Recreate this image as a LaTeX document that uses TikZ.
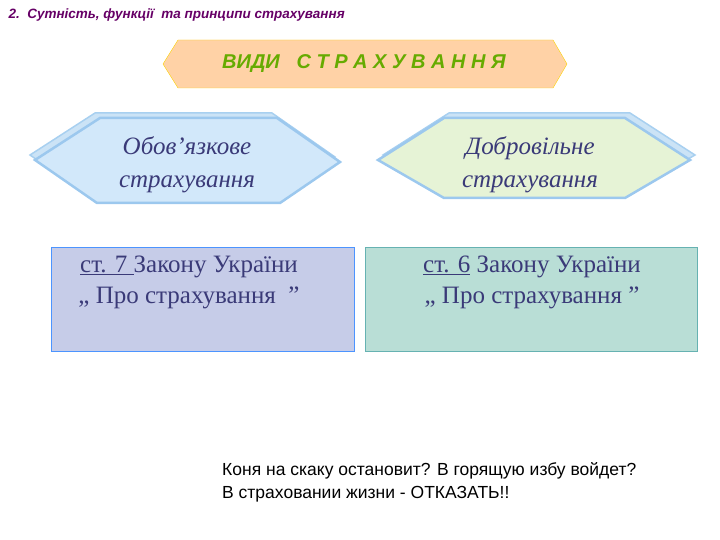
\documentclass[tikz,border=0pt]{standalone}
\usepackage{fontspec}
\setmainfont{Liberation Serif}
\newfontfamily\arialf{Liberation Sans}
\definecolor{hexl}{HTML}{D2E8FA}
\definecolor{hexr}{HTML}{E6F3D6}
\definecolor{hexb}{HTML}{A8D0F0}
\definecolor{hexe}{HTML}{9CC8EE}
\definecolor{boxl}{HTML}{C6CCE8}
\definecolor{boxr}{HTML}{B9DED6}
\definecolor{txtc}{HTML}{3A3A78}
\begin{document}
\begin{tikzpicture}[x=1pt,y=-1pt,
  hexback/.style={fill=hexb!60,draw=hexb,line width=1.5pt},
  hexfront/.style={draw=hexe,line width=2.5pt},
  lbl/.style={font=\itshape\fontsize{25}{33}\selectfont,text=txtc,align=center},
  boxtxt/.style={font=\fontsize{25}{31}\selectfont,text=txtc,align=center}]
\useasboundingbox (0,0) rectangle (720,540);
\node[anchor=west,font=\arialf\bfseries\itshape\fontsize{13.5}{16}\selectfont,text=violet!80!black] (title) at (5,15) {2.\ \ Сутність, функції\ \ та принципи страхування};
% top
\draw[fill=orange!35!white,draw=yellow!70!orange] (163,64) -- (178,40) -- (553,40) -- (567,64) -- (553,88) -- (178,88) -- cycle;
\node[font=\arialf\bfseries\itshape\fontsize{20}{24}\selectfont,text=green!45!black!60!yellow] (types) at (364,64) {ВИДИ\ \ \ С Т Р А Х У В А Н Н Я};
% left hex
\draw[hexback] (30,155) -- (95,113) -- (272,113) -- (335,157) -- (275,198) -- (92,198) -- cycle;
\draw[hexfront,fill=hexl] (35,160) -- (100,118) -- (277,118) -- (340,162) -- (280,203) -- (97,203) -- cycle;
\node[lbl] (mand) at (187,165) {Обов’язкове\\страхування};
% right hex
\draw[hexback] (383,155) -- (449,113) -- (630,113) -- (695,155) -- (630,193) -- (449,193) -- cycle;
\draw[hexfront,fill=hexr] (378,160) -- (444,118) -- (625,118) -- (690,160) -- (625,198) -- (444,198) -- cycle;
\node[lbl] (vol) at (530,165) {Добровільне\\страхування};
% boxes
\node[draw=blue!60!cyan!70,fill=boxl,minimum width=303pt,minimum height=104pt,anchor=north west] (b1) at (51,247) {};
\node[boxtxt] (t1) at (189,282) {\underline{ст. 7 }Закону України\\,, Про страхування\ \ ”};
\node[draw=teal!60,fill=boxr,minimum width=332pt,minimum height=104pt,anchor=north west] (b2) at (365,247) {};
\node[boxtxt] (t2) at (532,282) {\underline{ст. 6} Закону України\\,, Про страхування ”};
\node[anchor=north west,align=left,font=\arialf\fontsize{17.5}{23}\selectfont,inner sep=0pt] (q) at (222,462) {Коня на скаку остановит? В горящую избу войдет?\\В страховании жизни - ОТКАЗАТЬ!!};
\end{tikzpicture}
\end{document}
